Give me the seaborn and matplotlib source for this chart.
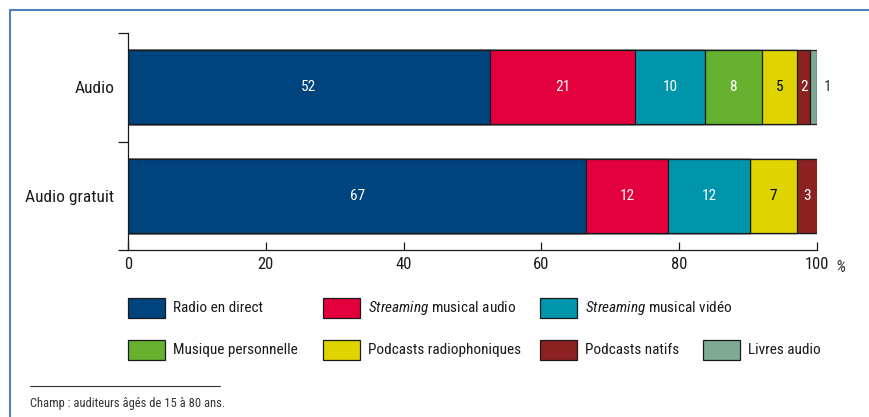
import numpy as np
import pandas as pd
import matplotlib.pyplot as plt
import matplotlib.patches as mpatches
from matplotlib import font_manager
import seaborn as sns

categories = ["Audio", "Audio gratuit"]
series = ["Radio en direct", r"$\it{Streaming}$ musical audio", r"$\it{Streaming}$ musical vidéo",
          "Musique personnelle", "Podcasts radiophoniques", "Podcasts natifs", "Livres audio"]
audio = [52.5, 21.1, 10.1, 8.3, 5.1, 1.9, 1.0]
audio_gratuit = [66.5, 11.9, 11.9, 0.0, 6.8, 2.9, 0.0]
audio_labels = ["52", "21", "10", "8", "5", "2", "1"]
gratuit_labels = ["67", "12", "12", "", "7", "3", ""]
colors = ["#00447f", "#e3003c", "#0095aa", "#66b22f", "#ded500", "#8c2121", "#80a994"]
text_colors = ["white", "white", "white", "white", "black", "white", "#333333"]

sns.set_style("white")
names = {f.name for f in font_manager.fontManager.ttflist}
font = "DejaVu Sans"
for cand in ["Liberation Sans Narrow", "Roboto Condensed", "Open Sans Condensed",
             "DejaVu Sans Condensed", "Roboto", "Liberation Sans"]:
    if cand in names:
        font = cand
        break
plt.rcParams['font.family'] = [font, 'DejaVu Sans']
plt.rcParams['mathtext.fontset'] = 'custom'
plt.rcParams['mathtext.it'] = font + ':italic'
plt.rcParams['mathtext.rm'] = font

fig = plt.figure(figsize=(8.69, 4.17), dpi=100)
ax = fig.add_axes([128/869, 1-250/417, (817-128)/869, (250-33)/417])

vals = np.array([audio, audio_gratuit])
cum = vals.cumsum(axis=1)
# draw cumulative bars from the widest to the narrowest so they stack
for i in range(len(series) - 1, -1, -1):
    df = pd.DataFrame({"cat": categories, "val": cum[:, i]})
    sns.barplot(data=df, x="val", y="cat", color=colors[i], orient="h", width=0.685,
                edgecolor="#1a1a1a", linewidth=0.9, saturation=1, ax=ax)

fs = 11
labels = [audio_labels, gratuit_labels]
for r in range(2):
    for i in range(len(series)):
        if labels[r][i] == "":
            continue
        if i == 6:
            ax.text(cum[r, i] + 1.0, r, labels[r][i], ha="left", va="center",
                    color="#333333", fontsize=fs)
        else:
            ax.text(cum[r, i] - vals[r, i] / 2, r, labels[r][i], ha="center", va="center",
                    color=text_colors[i], fontsize=fs)

ax.set_xlim(0, 100)
ax.set_ylim(1.5, -0.5)
ax.set_xlabel("")
ax.set_ylabel("")
ax.set_xticks([0, 20, 40, 60, 80, 100])
ax.tick_params(axis="x", direction="in", length=6, width=0.9, color="#1a1a1a",
               labelsize=12, pad=5, bottom=True, labelcolor="#1a1a1a")
ax.set_yticks([0, 1])
ax.set_yticklabels(categories)
ax.set_yticks([-0.5, 0.5, 1.5], minor=True)
ax.tick_params(axis="y", which="minor", direction="out", length=7, width=0.9, color="#1a1a1a", left=True)
ax.tick_params(axis="y", which="major", length=0, labelsize=12.5, pad=10, labelcolor="#1a1a1a")
for s in ["top", "right"]:
    ax.spines[s].set_visible(False)
for s in ["left", "bottom"]:
    ax.spines[s].set_color("#1a1a1a")
    ax.spines[s].set_linewidth(0.9)
fig.text(835/869, 1-268/417, "%", fontsize=12, style="italic", color="#333333", va="center")

# legend laid out like the reference: two rows, uneven columns
leg_pos = [(128, 308), (323, 308), (540, 308), (128, 350), (323, 350), (540, 350), (703, 350)]
for i, (px, py) in enumerate(leg_pos):
    fig.add_artist(mpatches.Rectangle((px/869, 1-(py+10)/417), 37/869, 20/417,
                                      facecolor=colors[i], edgecolor="#1a1a1a", linewidth=0.9,
                                      transform=fig.transFigure))
    fig.text((px+45)/869, 1-py/417, series[i], fontsize=fs, color="#1a1a1a", va="center")

# footnote
fig.add_artist(plt.Line2D([30/869, 220/869], [1-386/417, 1-386/417], color="#333333", lw=0.8))
fig.text(30/869, 1-404/417, "Champ : auditeurs âgés de 15 à 80 ans.", fontsize=9,
         color="#333333", va="center")

# frame
fig.add_artist(plt.Line2D([10/869, 1], [1-10/417, 1-10/417], color="#4f81bd", lw=1.5))
fig.add_artist(plt.Line2D([10/869, 10/869], [0, 1-10/417], color="#4f81bd", lw=1.5))

fig.savefig("out.png", dpi=100)
